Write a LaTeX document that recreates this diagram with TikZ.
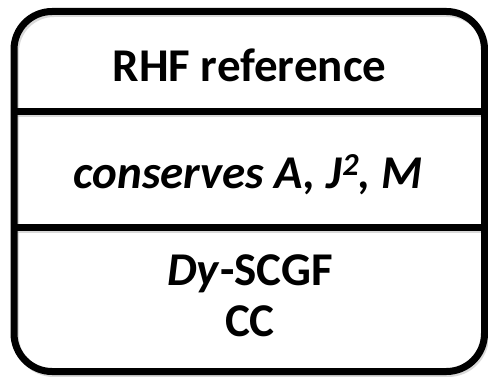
\documentclass[tikz,border=0pt]{standalone}
\usepackage{fontspec}
\setmainfont{Carlito}
\newcommand{\supdigit}[1]{\raisebox{13pt}{\fontsize{32}{32}\selectfont\bfseries #1}}
\tikzset{
  frame/.style={line width=7pt, draw=black, rounded corners=38pt},
  divider/.style={line width=7pt, draw=black},
  shade/.style={line width=6pt, draw=black!25, opacity=0.6},
  label/.style={font=\fontsize{47}{56}\selectfont\bfseries, align=center, inner sep=0pt, anchor=base}
}
\begin{document}
\begin{tikzpicture}[x=1pt,y=-1pt]
  \useasboundingbox (0,0) rectangle (488,377);
  % soft shadows under the rules
  \draw[shade] (17,114) -- (481,114);
  \draw[shade] (17,230) -- (481,230);
  \draw[shade, rounded corners=38pt] (16,14) rectangle (486,374);
  % outer rounded frame
  \draw[frame] (14,11.5) rectangle (484.5,371.5);
  % section dividers
  \coordinate (d1l) at (14,111.5);
  \coordinate (d1r) at (484.5,111.5);
  \coordinate (d2l) at (14,227.5);
  \coordinate (d2r) at (484.5,227.5);
  \draw[divider] (d1l) -- (d1r);
  \draw[divider] (d2l) -- (d2r);
  % section texts
  \node[label] (top) at (249.5,82) {RHF reference};
  \node[label] (mid) at (248,189) {\itshape conserves A, J\supdigit{2}, M};
  \node[label] (low1) at (250,286) {\textit{Dy}-SCGF};
  \node[label] (low2) at (250,337) {CC};
\end{tikzpicture}
\end{document}
